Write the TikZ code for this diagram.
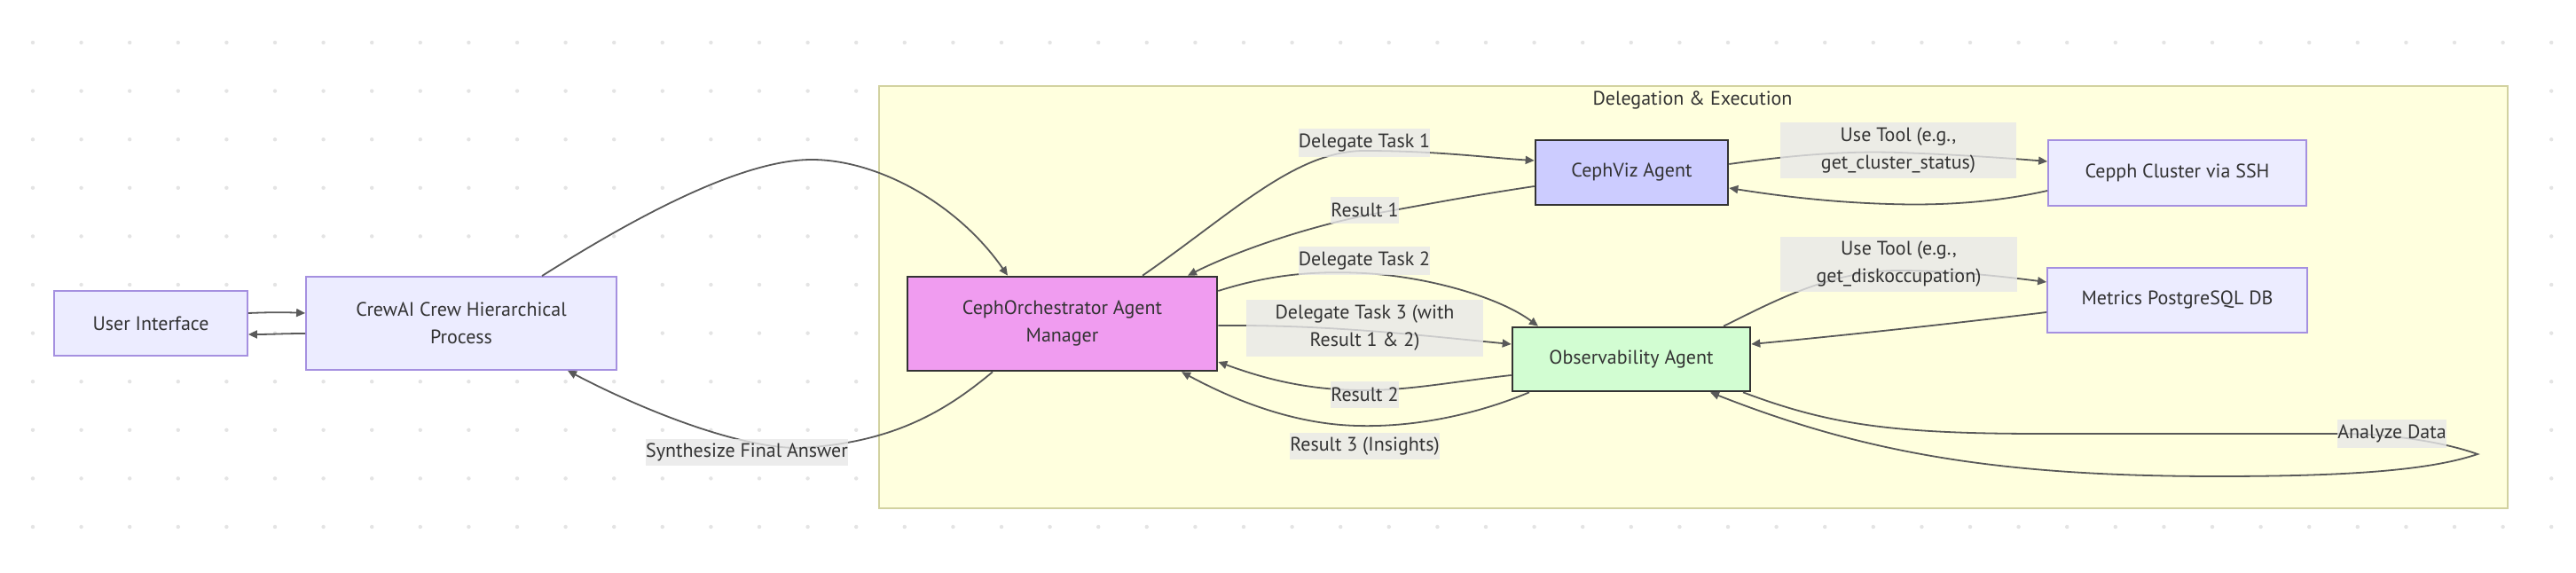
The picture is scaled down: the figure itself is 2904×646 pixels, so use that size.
\documentclass[tikz,border=0pt]{standalone}
\usepackage{fontspec}
\newfontfamily\dfont{PT Sans}
\usetikzlibrary{arrows.meta}
\definecolor{txt}{HTML}{333333}
\definecolor{nodefill}{HTML}{ECECFF}
\definecolor{nodestroke}{HTML}{A590E0}
\definecolor{strongstroke}{HTML}{333333}
\definecolor{orchfill}{HTML}{F09CF0}
\definecolor{vizfill}{HTML}{CCCCFF}
\definecolor{obsfill}{HTML}{D2FDD2}
\definecolor{clusterfill}{HTML}{FFFFDE}
\definecolor{clusterstroke}{HTML}{D2D2A0}
\definecolor{lblbg}{HTML}{E8E8E8}
\definecolor{edgecol}{HTML}{595959}
\definecolor{dotcol}{HTML}{E4E4E4}
\tikzset{
  base/.style={rectangle, inner sep=0pt, align=center, text=txt, font=\dfont\fontsize{11}{15.5}\selectfont},
  plain/.style={base, fill=nodefill, draw=nodestroke, line width=0.9pt},
  strong/.style={base, draw=strongstroke, line width=1.3pt},
  elabel/.style={base, fill=lblbg, fill opacity=0.8, text opacity=1},
  conn/.style={draw=edgecol, line width=0.9pt, -{Triangle[length=5pt,width=4.5pt]}},
}
\begin{document}
\begin{tikzpicture}[x=0.5pt,y=-0.5pt]
\useasboundingbox (0,0) rectangle (2904,646);
\fill[white] (0,0) rectangle (2904,646);
\foreach \i in {0,...,52} \foreach \j in {0,...,10}
  \fill[dotcol] ({37+54.6*\i},{48+54.6*\j}) circle (1.1pt);
% cluster
\node[draw=clusterstroke, fill=clusterfill, line width=1.2pt, minimum width=918pt, minimum height=238pt, inner sep=0pt] (cl) at (1909,335) {};
\node[base] (cltitle) at (1908,113) {Delegation \& Execution};
% nodes
\node[plain, minimum width=109pt, minimum height=36.5pt] (ui) at (170,364.5) {User Interface};
\node[plain, minimum width=175pt, minimum height=52.5pt] (crew) at (520,364.5) {CrewAI Crew Hierarchical\\Process};
\node[strong, fill=orchfill, minimum width=174.5pt, minimum height=53pt] (orch) at (1197.5,365) {CephOrchestrator Agent\\Manager};
\node[strong, fill=vizfill, minimum width=108.5pt, minimum height=36.5pt] (viz) at (1839.5,194.5) {CephViz Agent};
\node[strong, fill=obsfill, minimum width=134pt, minimum height=36pt] (obs) at (1839,405) {Observability Agent};
\node[plain, minimum width=145.5pt, minimum height=37pt] (ssh) at (2454.5,195) {Cepph Cluster via SSH};
\node[plain, minimum width=146.5pt, minimum height=36.5pt] (db) at (2454.5,338.5) {Metrics PostgreSQL DB};
% edges
\draw[conn] (ui.east |- 0,353) .. controls (305,352) and (320,352) .. (crew.west |- 0,353);
\draw[conn] (crew.west |- 0,376) .. controls (320,376) and (305,377) .. (ui.east |- 0,377);
\draw[conn] (crew.north -| 611,0) .. controls (700,255) and (830,180) .. (915,180) .. controls (990,180) and (1080,230) .. (orch.north -| 1136,0);
\draw[conn] (orch.south -| 1119,0) .. controls (1070,460) and (1010,500) .. (900,505) .. controls (830,505) and (720,460) .. (crew.south -| 640,0);
\draw[conn] (orch.north -| 1288,0) .. controls (1390,240) and (1460,170) .. (1538,170) .. controls (1620,170) and (1680,178) .. (viz.west |- 0,181);
\draw[conn] (viz.west |- 0,210) .. controls (1650,222) and (1600,232) .. (1538,243) .. controls (1450,262) and (1380,290) .. (orch.north -| 1339,0);
\draw[conn] (orch.east |- 0,328) .. controls (1430,310) and (1480,305) .. (1538,308) .. controls (1610,312) and (1690,335) .. (obs.north -| 1734,0);
\draw[conn] (orch.east |- 0,367) .. controls (1500,366) and (1600,378) .. (obs.west |- 0,388);
\draw[conn] (obs.west |- 0,423) .. controls (1640,430) and (1590,440) .. (1538,440) .. controls (1470,440) and (1420,425) .. (orch.east |- 0,408);
\draw[conn] (obs.south -| 1724,0) .. controls (1670,465) and (1600,482) .. (1530,480) .. controls (1450,478) and (1380,445) .. (orch.south -| 1332,0);
\draw[conn] (viz.east |- 0,185) .. controls (2020,175) and (2080,170) .. (2140,172) .. controls (2200,174) and (2260,178) .. (ssh.west |- 0,182);
\draw[conn] (ssh.west |- 0,215) .. controls (2250,228) and (2190,232) .. (2130,230) .. controls (2060,228) and (2000,220) .. (viz.east |- 0,212);
\draw[conn] (obs.north -| 1943,0) .. controls (1990,345) and (2060,305) .. (2140,305) .. controls (2200,305) and (2260,312) .. (db.west |- 0,318);
\draw[conn] (db.west |- 0,352) .. controls (2200,365) and (2080,378) .. (obs.east |- 0,388);
\coordinate (looptip) at (2793,512);
\draw[conn] (obs.south -| 1965,0) .. controls (2060,478) and (2130,489) .. (2300,489) -- (2640,489) .. controls (2700,489) and (2760,500) .. (looptip) .. controls (2740,530) and (2650,537) .. (2500,537) .. controls (2250,537) and (2100,510) .. (obs.south -| 1928,0);
% edge labels
\node[elabel, minimum width=74pt, minimum height=16pt] (lt1) at (1538,161) {Delegate Task 1};
\node[elabel, minimum width=37.5pt, minimum height=15pt] (lr1) at (1538.5,237) {Result 1};
\node[elabel, minimum width=74pt, minimum height=16pt] (lt2) at (1538,294) {Delegate Task 2};
\node[elabel, minimum width=133.5pt, minimum height=32pt] (lt3) at (1538.5,370) {Delegate Task 3 (with\\Result 1 \& 2)};
\node[elabel, minimum width=37.5pt, minimum height=15pt] (lr2) at (1538.5,445) {Result 2};
\node[elabel, minimum width=84.5pt, minimum height=15pt] (lr3) at (1538.5,503) {Result 3 (Insights)};
\node[elabel, minimum width=133pt, minimum height=31.5pt] (lu1) at (2140,169.5) {Use Tool (e.g.,\\get\_cluster\_status)};
\node[elabel, minimum width=133.5pt, minimum height=31pt] (lu2) at (2140.5,298) {Use Tool (e.g.,\\get\_diskoccupation)};
\node[elabel, minimum width=61.5pt, minimum height=16pt] (lad) at (2696.5,489) {Analyze Data};
\node[elabel, minimum width=114pt, minimum height=15pt] (lsy) at (842,510) {Synthesize Final Answer};
\end{tikzpicture}
\end{document}
